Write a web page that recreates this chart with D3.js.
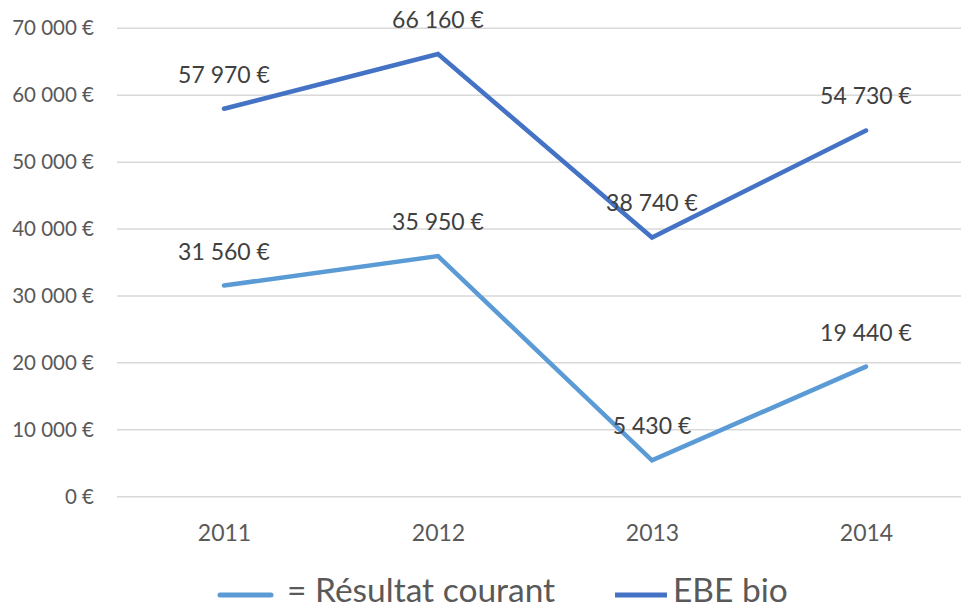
<!DOCTYPE html>
<html>
<head>
<meta charset="utf-8">
<script src="https://cdn.jsdelivr.net/npm/d3@7"></script>
<style>
  body { margin: 0; background: #fff; }
  text { font-family: Lato, "Open Sans", sans-serif; }
</style>
</head>
<body>
<div id="chart"></div>
<script>
// data
let years = ["2011", "2012", "2013", "2014"]
let resultat = [31560, 35950, 5430, 19440]
let ebe = [57970, 66160, 38740, 54730]
let yTicks = [0, 10000, 20000, 30000, 40000, 50000, 60000, 70000]
let seriesNames = ["= Résultat courant", "EBE bio"]
let seriesColors = ["#5b9bd5", "#4472c4"]

let width = 961, height = 608

let svg = d3.select("#chart")
    .append("svg")
    .attr("width", width)
    .attr("height", height)

let x = d3.scalePoint()
    .domain(years)
    .range([224, 866])
let y = d3.scaleLinear()
    .domain([0, 70000])
    .range([496.7, 28.3])

let fmt = function(v) {
    return d3.format(",")(v).replace(/,/g, " ") + " €"
}

// gridlines
svg.append("g")
    .selectAll("line")
    .data(yTicks)
    .enter()
    .append("line")
    .attr("x1", 117)
    .attr("x2", width)
    .attr("y1", d => y(d))
    .attr("y2", d => y(d))
    .attr("stroke", "#d9d9d9")
    .attr("stroke-width", 1.5)

// y labels
let yAxis = svg.append("g")
    .attr("transform", "translate(94,0)")
    .call(d3.axisLeft(y).tickValues(yTicks).tickSize(0).tickPadding(0).tickFormat(fmt))
yAxis.select(".domain").remove()
yAxis.selectAll("text")
    .attr("font-family", "Lato, sans-serif")
    .attr("font-size", 20.5)
    .attr("fill", "#595959")

// x labels
let xAxis = svg.append("g")
    .attr("transform", "translate(0,503)")
    .call(d3.axisBottom(x).tickSize(0).tickPadding(0))
xAxis.select(".domain").remove()
xAxis.selectAll("text")
    .attr("font-family", "Lato, sans-serif")
    .attr("font-size", 23)
    .attr("fill", "#595959")
    .attr("dy", "1.65em")

let line = d3.line()
    .x((d, i) => x(years[i]))
    .y(d => y(d))

let allSeries = [resultat, ebe]
allSeries.forEach(function(vals, s) {
    svg.append("path")
        .datum(vals)
        .attr("d", line)
        .attr("fill", "none")
        .attr("stroke", seriesColors[s])
        .attr("stroke-width", 4.5)
        .attr("stroke-linecap", "round")

    svg.append("g")
        .selectAll("text")
        .data(vals)
        .enter()
        .append("text")
        .attr("x", (d, i) => x(years[i]))
        .attr("y", d => y(d) - 26)
        .attr("text-anchor", "middle")
        .attr("font-size", 23)
        .attr("fill", "#404040")
        .text(d => fmt(d))
})

// legend
let legendX = [218, 615]
let legend = svg.append("g")
seriesNames.forEach(function(name, s) {
    legend.append("line")
        .attr("x1", legendX[s] + (s == 0 ? 2 : 0))
        .attr("x2", legendX[s] + (s == 0 ? 53 : 52))
        .attr("y1", 595)
        .attr("y2", 595)
        .attr("stroke", seriesColors[s])
        .attr("stroke-width", 5)
        .attr("stroke-linecap", s == 0 ? "round" : "butt")
    legend.append("text")
        .attr("x", legendX[s] + (s == 0 ? 69 : 58))
        .attr("y", 602)
        .attr("font-size", 33.5)
        .attr("fill", "#595959")
        .text(name)
})
</script>
</body>
</html>
